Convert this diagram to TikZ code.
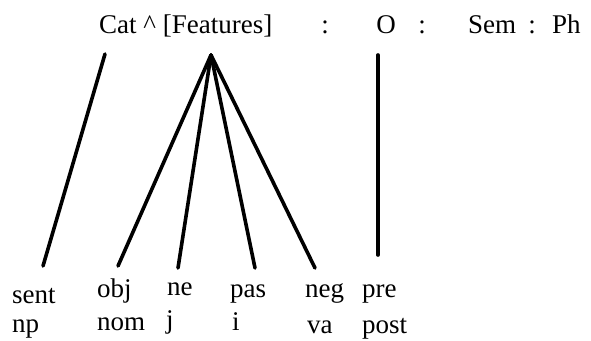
\documentclass[tikz,border=0pt]{standalone}
\usepackage{fontspec}
\setmainfont{Liberation Serif}
\begin{document}
\begin{tikzpicture}[x=1pt,y=-1pt,
  lbl/.style={inner sep=0pt,anchor=base west,font=\fontsize{27}{27}\selectfont},
  sym/.style={inner sep=0pt,anchor=base,font=\fontsize{27}{27}\selectfont},
  stroke/.style={line width=3.6pt,line cap=round}]
\useasboundingbox[fill=white] (0,0) rectangle (591,340);
% top row
\node[lbl] (cat) at (99,33) {Cat \textasciicircum{} [Features]};
\node[sym] (c1) at (325,33) {:};
\node[sym] (o) at (386,33) {O};
\node[sym] (c2) at (422,33) {:};
\node[lbl] (sem) at (468,33) {Sem};
\node[sym] (c3) at (532,33) {:};
\node[lbl] (ph) at (552,33) {Ph};
% bottom labels
\node[lbl] (sent) at (12,303) {sent};
\node[lbl] (np) at (12,332) {np};
\node[lbl] (obj) at (97,297) {obj};
\node[lbl] (nom) at (97,330) {nom};
\node[lbl] (ne) at (167,295) {ne};
\node[lbl] (j) at (166,328) {j};
\node[lbl] (pas) at (230,297) {pas};
\node[lbl] (i) at (232,330) {i};
\node[lbl] (neg) at (305,297) {neg};
\node[lbl] (va) at (307,333) {va};
\node[lbl] (pre) at (362,297) {pre};
\node[lbl] (post) at (362,333) {post};
% line endpoints
\coordinate (catT) at (105,54);
\coordinate (catB) at (43,266);
\coordinate (apex) at (211,55);
\coordinate (objB) at (118,266);
\coordinate (neB) at (178,268);
\coordinate (pasB) at (255,268);
\coordinate (negB) at (315,268);
\coordinate (oT) at (378,55);
\coordinate (oB) at (378,255);
% connectors
\draw[stroke] (catT) -- (catB);
\draw[stroke] (apex) -- (objB);
\draw[stroke] (apex) -- (neB);
\draw[stroke] (apex) -- (pasB);
\draw[stroke] (apex) -- (negB);
\draw[stroke] (oT) -- (oB);
\end{tikzpicture}
\end{document}
